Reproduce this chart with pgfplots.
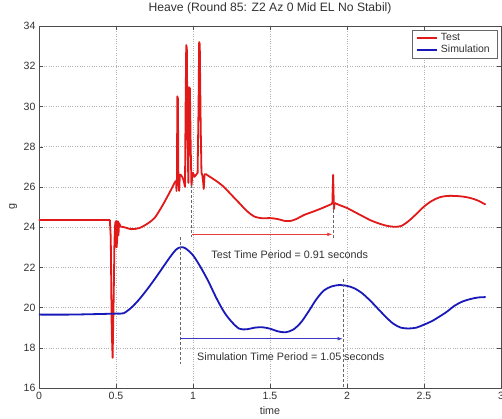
\documentclass[border=0pt]{standalone}
\usepackage{fontspec}
\setmainfont{Liberation Sans}
\usepackage{pgfplots}
\pgfplotsset{compat=1.18}
\usetikzlibrary{arrows.meta}
\definecolor{mred}{RGB}{225,25,25}
\definecolor{mblue}{RGB}{25,25,185}
\definecolor{txt}{RGB}{50,50,50}
\begin{document}
\begin{tikzpicture}
\begin{axis}[
  at={(0,0)}, anchor=south west,
  scale only axis, width=462bp, height=362bp,
  xmin=0, xmax=3, ymin=16, ymax=34,
  xtick={0,0.5,1,1.5,2,2.5,3}, ytick={16,18,20,22,24,26,28,30,32,34},
  tick align=inside, xtick pos=both, ytick pos=both,
  major tick length=4bp,
  axis line style={black!70},
  tick style={black!70},
  grid=major,
  major grid style={black!30, dotted, line width=0.5bp},
  /pgf/number format/assume math mode=true,
  tick label style={font=\fontsize{10.6}{12}\selectfont, text=txt},
  xticklabel style={yshift=-1bp},
  title={Heave (Round 85: Z2 Az 0 Mid EL No Stabil)},
  title style={at={(axis description cs:0.5,1.0331)}, anchor=center, font=\fontsize{12.2}{14}\selectfont, text=txt},
  xlabel={time},
  xlabel style={at={(axis description cs:0.5,-0.0627)}, anchor=center, font=\fontsize{10.8}{12}\selectfont, text=txt},
  ylabel={g},
  ylabel style={at={(axis description cs:-0.0563,0.5)}, anchor=center, font=\fontsize{10.8}{12}\selectfont, text=txt},
  legend style={at={(axis description cs:1,1)}, xshift=-4bp, yshift=-4bp, anchor=north east,
    draw=black!60, font=\fontsize{10.5}{12}\selectfont, text=txt, inner xsep=4bp, inner ysep=1.5bp, row sep=-1bp,
    nodes={inner xsep=3bp}},
  legend cell align=left,
  legend image code/.code={\draw[#1] (0bp,0bp) -- (20bp,0bp);},
]
\addlegendimage{mred, line width=1.8bp}
\addlegendimage{mblue, line width=2bp}
\legend{Test,Simulation}
\addplot[mred, line width=1.8bp, line join=round, forget plot] coordinates {
(0,24.35) (0.46,24.35) (0.466,23.5) (0.472,19.0) (0.478,17.5) (0.485,20.5)
(0.49,23.3) (0.495,24.2) (0.5,24.3) (0.504,23.0) (0.508,23.4) (0.512,24.3)
(0.516,23.6) (0.52,24.2) (0.53,24.02)
};
\addplot[mred, line width=1.8bp, smooth, forget plot] coordinates {
(0.53,24.02) (0.55,24.0) (0.6,23.9) (0.65,23.95) (0.7,24.15) (0.75,24.45)
(0.8,25.05) (0.85,25.75) (0.88,26.2) (0.89,26.3)
};
\addplot[mred, line width=1.8bp, line join=round, forget plot] coordinates {
(0.89,26.3) (0.893,25.8) (0.896,26.5) (0.898,30.5) (0.902,30.4)
(0.905,26.6) (0.91,25.8) (0.915,26.6) (0.92,26.6) (0.93,26.5) (0.94,26.3)
(0.948,26.0) (0.952,30.0) (0.956,33.05) (0.96,32.9) (0.965,28.0) (0.97,26.2)
(0.975,30.95) (0.98,30.9) (0.985,28.0) (0.99,26.05) (0.995,26.5) (1.0,26.7)
(1.01,26.5) (1.02,26.6) (1.03,26.7) (1.036,30.0) (1.04,33.2) (1.044,33.1)
(1.05,29.0) (1.055,26.7) (1.06,26.6) (1.065,26.3) (1.07,25.9) (1.075,26.6)
(1.08,26.65)
};
\addplot[mred, line width=1.8bp, smooth, forget plot] coordinates {
(1.08,26.65) (1.1,26.55) (1.15,26.3) (1.2,26.0) (1.25,25.6) (1.3,25.2)
(1.35,24.8) (1.4,24.52) (1.45,24.44) (1.5,24.45) (1.55,24.4) (1.6,24.3)
(1.63,24.3) (1.67,24.4) (1.72,24.6) (1.78,24.77) (1.84,24.95) (1.9,25.15)
(1.905,25.2)
};
\addplot[mred, line width=1.8bp, line join=round, forget plot] coordinates {
(1.905,25.2) (1.91,26.6) (1.915,24.9) (1.92,25.2)
};
\addplot[mred, line width=1.8bp, smooth, forget plot] coordinates {
(1.92,25.2) (1.95,25.1) (2.0,24.95)
(2.05,24.75) (2.1,24.55) (2.15,24.35) (2.2,24.2) (2.25,24.08) (2.3,24.02)
(2.35,24.05) (2.4,24.3) (2.45,24.65) (2.5,25.02) (2.55,25.3) (2.6,25.48)
(2.65,25.55) (2.7,25.55) (2.75,25.52) (2.8,25.45) (2.85,25.32) (2.9,25.12)
};
\addplot[mblue, line width=1.8bp, smooth, forget plot] coordinates {
(0,19.65) (0.2,19.65) (0.4,19.68) (0.5,19.7) (0.55,19.72) (0.6,20.0)
(0.65,20.4) (0.7,20.88) (0.75,21.4) (0.8,21.95) (0.85,22.5) (0.89,22.88)
(0.92,23.0) (0.95,22.95) (1.0,22.6) (1.05,22.0) (1.1,21.3)
(1.15,20.5) (1.2,19.8) (1.25,19.3) (1.3,18.95) (1.35,18.92) (1.4,19.0)
(1.45,19.02) (1.5,18.95) (1.55,18.82) (1.6,18.77) (1.65,18.9) (1.7,19.25)
(1.75,19.8) (1.8,20.4) (1.85,20.85) (1.9,21.05) (1.95,21.12) (2.0,21.08)
(2.05,20.95) (2.1,20.7) (2.15,20.35) (2.2,19.95) (2.25,19.55) (2.3,19.2)
(2.35,19.0) (2.4,18.96) (2.45,19.0) (2.5,19.15) (2.55,19.32) (2.6,19.55)
(2.65,19.8) (2.7,20.1) (2.75,20.3) (2.8,20.42) (2.85,20.5) (2.9,20.52)
};
% annotations
\draw[black!60, line width=0.6bp, dash pattern=on 3bp off 2bp] (axis cs:0.916,23.5) -- (axis cs:0.916,17.2);
\draw[black!60, line width=0.6bp, dash pattern=on 3bp off 2bp] (axis cs:0.992,26.1) -- (axis cs:0.992,23.5);
\draw[black!60, line width=0.6bp, dash pattern=on 3bp off 2bp] (axis cs:1.91,25.1) -- (axis cs:1.91,23.45);
\draw[black!60, line width=0.6bp, dash pattern=on 3bp off 2bp] (axis cs:1.976,21.4) -- (axis cs:1.976,16);
\draw[mred!85, line width=0.6bp, -{Latex[length=5bp,width=3.5bp]}] (axis cs:0.992,23.64) -- (axis cs:1.905,23.64);
\draw[mblue!85, line width=0.6bp, -{Latex[length=5bp,width=3.5bp]}] (axis cs:0.916,18.45) -- (axis cs:1.972,18.45);
\node[font=\fontsize{10.8}{12}\selectfont, text=txt] at (axis cs:1.628,22.61) {Test Time Period = 0.91 seconds};
\node[font=\fontsize{10.8}{12}\selectfont, text=txt] at (axis cs:1.635,17.56) {Simulation Time Period = 1.05 seconds};
\end{axis}
\pgfresetboundingbox
\useasboundingbox (-39bp,-31bp) rectangle (463bp,388bp);
\end{tikzpicture}
\end{document}
